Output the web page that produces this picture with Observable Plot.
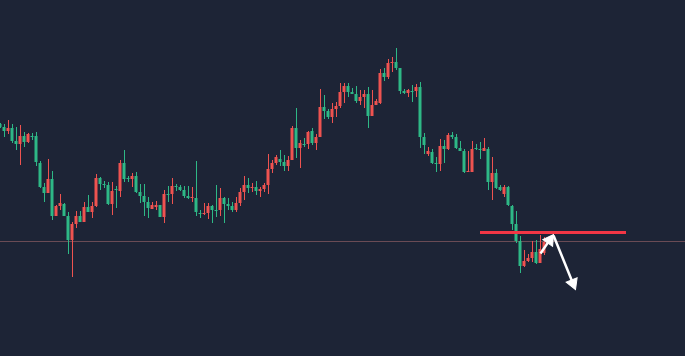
<!DOCTYPE html>
<html><head><meta charset="utf-8">
<script src="https://cdn.jsdelivr.net/npm/d3@7"></script>
<script src="https://cdn.jsdelivr.net/npm/@observablehq/plot@0.6"></script>
<style>html,body{margin:0;padding:0;background:#1d2436;overflow:hidden}</style>
</head><body><div id="chart"></div>
<script>
// OHLC prices (one candle per bar, left to right)
const open = [276,273,269,272,259,256,264,258,264,264,237,213,207,221,184,194,196,184,160,176,
184,178,193,188,194,222,216,215,196,211,209,237,222,221,224,208,204,198,191,193,
195,183,206,206,214,213,210,204,202,202,187,186,187,194,190,190,202,196,194,190,
197,208,215,212,213,209,211,215,231,237,241,238,234,240,272,252,256,256,269,257,
263,293,289,283,291,294,308,314,308,306,299,303,306,284,295,297,327,323,337,338,
332,309,307,309,309,313,263,246,248,237,236,254,251,265,263,252,249,228,228,252,
251,249,251,218,227,213,206,213,194,176,159,134,139,142,148,137,147];
const high = [277,276,280,276,273,275,268,267,267,268,239,217,241,229,195,206,197,188,178,189,
189,198,205,198,226,223,219,218,218,214,240,250,224,227,228,216,216,203,198,199,
195,210,214,222,216,215,214,214,213,239,190,197,197,195,215,212,203,202,198,203,
212,224,222,217,219,213,217,246,240,245,250,245,244,274,292,260,262,269,272,266,
311,305,291,297,298,317,317,317,312,314,310,310,313,310,301,331,332,341,343,352,
332,311,311,315,316,318,267,253,251,243,261,260,267,268,266,259,251,249,259,256,
258,262,253,243,231,215,215,214,195,189,164,150,146,159,160,165,163];
const low = [272,263,266,257,250,235,253,257,260,234,212,198,207,180,184,190,184,146,123,172,
178,178,188,182,193,210,212,195,185,192,203,218,218,213,207,197,184,182,191,190,
183,177,198,196,209,209,202,201,198,184,182,185,181,177,183,184,177,190,188,188,
194,200,207,208,205,203,208,206,227,235,234,229,229,240,242,232,253,251,255,250,
263,281,281,277,283,292,297,303,306,297,295,292,272,284,295,296,319,321,328,330,
306,306,303,298,303,252,246,244,236,228,229,237,250,261,251,249,227,228,228,250,
241,249,210,200,211,209,203,194,170,157,127,133,138,138,136,137,145];
const close = [273,269,272,259,256,264,258,266,264,238,213,207,221,184,194,197,184,160,176,184,
178,193,188,194,222,216,216,196,209,211,237,221,222,224,208,204,198,192,195,195,
183,206,206,214,213,210,204,202,203,188,187,187,194,190,190,202,196,194,190,197,
208,215,212,213,209,211,215,231,237,243,238,234,240,272,252,257,256,268,257,263,
293,289,283,291,294,308,314,308,306,299,303,306,284,295,299,327,323,337,338,332,
309,307,310,309,313,263,255,249,237,237,254,251,265,263,252,249,228,229,251,251,
251,252,218,227,212,210,213,195,176,159,134,139,142,148,137,151,158];

// annotations
const baseLevel = [159];                                   // thin horizontal level
const resistance = [{price: 168, from: 120, to: 156.5}];   // thick red level
const moves = [                                            // white arrows (start -> tip)
  {x1: 135, y1: 147, x2: 138.25, y2: 166},
  {x1: 138.25, y1: 165, x2: 143.75, y2: 111}
];

const W = 685, H = 356;
const xDomain = [0, 171.25], yDomain = [44, 400];
const UP = "#ef5350", DOWN = "#2eb886";
const candles = open.map((o, i) => ({
  i, open: o, high: high[i], low: low[i], close: close[i],
  color: close[i] > o ? UP : DOWN
}));
const half = 0.375;

// filled arrowheads: place a triangle symbol so its tip sits on the arrow end
const xs = Plot.scale({x: {domain: xDomain, range: [0, W]}});
const ys = Plot.scale({y: {domain: yDomain, range: [H, 0]}});
const headR = 4.4;
const halfH = headR * Math.sqrt(Math.PI / (3 * Math.sqrt(3)));   // d3 triangle geometry
const heads = moves.map(m => {
  const sx = xs.apply(m.x1), sy = ys.apply(m.y1), tx = xs.apply(m.x2), ty = ys.apply(m.y2);
  const len = Math.hypot(tx - sx, ty - sy), ux = (tx - sx) / len, uy = (ty - sy) / len;
  const cx = tx - ux * 2 * halfH, cy = ty - uy * 2 * halfH;
  return {x: xs.invert(cx), y: ys.invert(cy), rotate: Math.atan2(ux, -uy) * 180 / Math.PI,
          x1: m.x1, y1: m.y1};
});

const chart = Plot.plot({
  width: W, height: H, margin: 0,
  x: {domain: xDomain, axis: null},
  y: {domain: yDomain, axis: null},
  color: {type: "identity"},
  style: {background: "#1d2436"},
  marks: [
    Plot.ruleY(baseLevel, {y: d => d, stroke: "#6a4b55", strokeWidth: 1}),
    Plot.ruleX(candles, {x: "i", y1: "low", y2: "high", stroke: "color", strokeWidth: 1}),
    Plot.rect(candles, {x1: d => d.i - half, x2: d => d.i + half, y1: "open", y2: "close", fill: "color"}),
    Plot.ruleY(candles.filter(d => Math.abs(d.open - d.close) < 1),
      {y: "open", x1: d => d.i - half, x2: d => d.i + half, stroke: "color", strokeWidth: 1}),
    Plot.ruleY(resistance, {y: "price", x1: "from", x2: "to", stroke: "#f23645", strokeWidth: 3}),
    Plot.link(heads, {x1: "x1", y1: "y1", x2: "x", y2: "y", stroke: "white", strokeWidth: 2.5}),
    Plot.dot(heads, {x: "x", y: "y", symbol: "triangle", r: headR, rotate: "rotate",
      fill: "white", stroke: "white", strokeWidth: 1})
  ]
});
document.getElementById("chart").append(chart);
</script>
</body></html>
